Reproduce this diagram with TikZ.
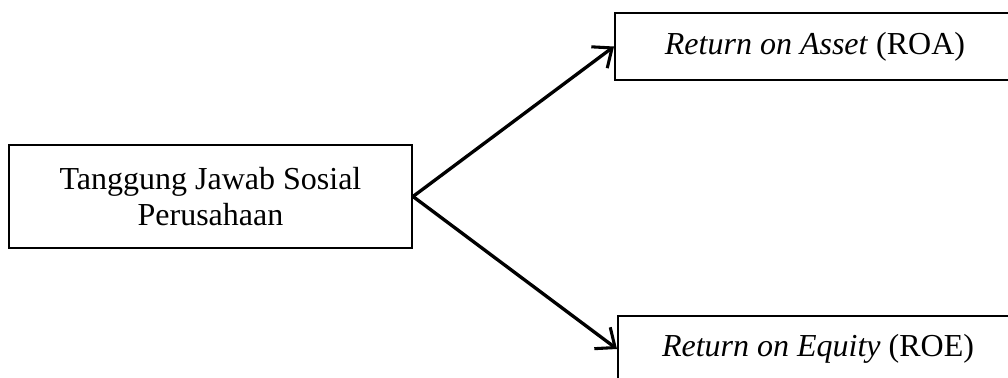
\documentclass[tikz,border=0pt]{standalone}
\usepackage{fontspec}
\setmainfont{Liberation Serif}
\usetikzlibrary{arrows.meta,positioning}

\begin{document}
\begin{tikzpicture}[x=0.75pt, y=-0.75pt,
    box/.style={rectangle, draw=black, line width=1.5pt, align=center,
        font=\fontsize{24}{27}\selectfont, inner sep=0pt},
    link/.style={-{Straight Barb[length=12pt, width=20pt, line width=2.3pt]}, line width=2.5pt}]

    \useasboundingbox (0,0) rectangle (1008,378);
    \clip (0,0) rectangle (1008,378);

    % variables
    \node[box, minimum width=403*0.75pt, minimum height=103*0.75pt] (csr) at (210.5,196.5)
        {Tanggung Jawab Sosial\\Perusahaan};
    \node[box, minimum width=400*0.75pt, minimum height=67*0.75pt] (roa) at (815,46.5)
        {\textit{Return on Asset} (ROA)};
    \node[box, minimum width=400*0.75pt, minimum height=66*0.75pt] (roe) at (818,349)
        {\textit{Return on Equity} (ROE)};

    \draw[link] (csr.east) -- (roa.west);
    \draw[link] (csr.east) -- (roe.west);
\end{tikzpicture}
\end{document}
